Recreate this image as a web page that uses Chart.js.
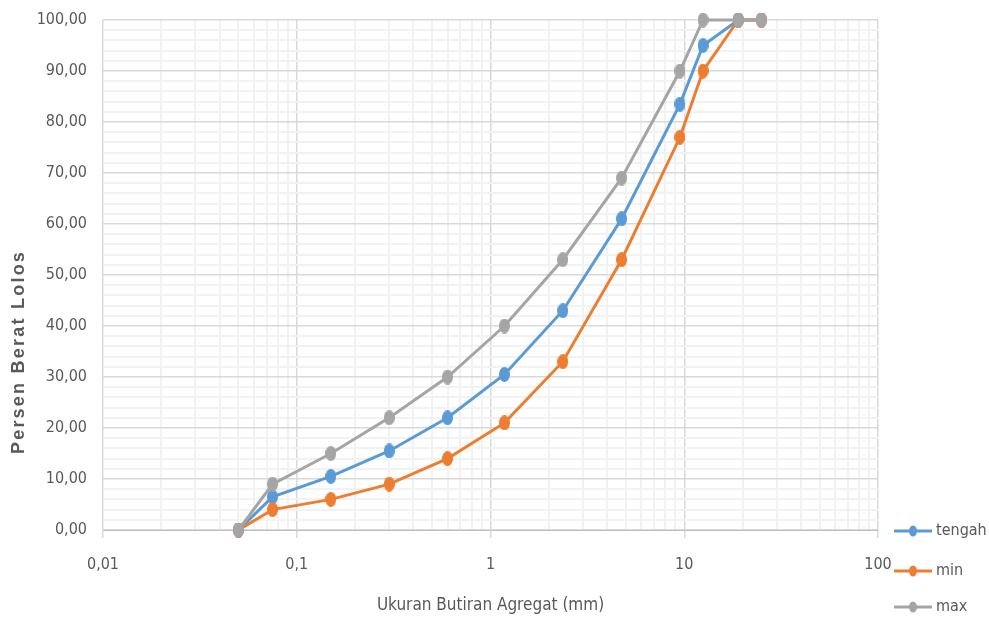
<!DOCTYPE html>
<html>
<head>
<meta charset="utf-8">
<script src="https://cdn.jsdelivr.net/npm/chart.js@4/dist/chart.umd.min.js"></script>
<style>
  html, body { margin: 0; padding: 0; background: #fff; }
  #wrap { width: 989px; height: 619px; position: relative; }
</style>
</head>
<body>
<div id="wrap"><canvas id="gradasiChart"></canvas></div>
<script>
// Data gradasi agregat
const sieveSizes   = [0.05, 0.075, 0.15, 0.3, 0.6, 1.18, 2.36, 4.75, 9.5, 12.5, 19, 25];
const tengahValues = [0, 6.5, 10.5, 15.5, 22, 30.5, 43, 61, 83.5, 95, 100, 100];
const minValues    = [0, 4, 6, 9, 14, 21, 33, 53, 77, 90, 100, 100];
const maxValues    = [0, 9, 15, 22, 30, 40, 53, 69, 90, 100, 100, 100];

const seriesNames  = ['tengah', 'min', 'max'];
const seriesColors = ['#5B9BD5', '#ED7D31', '#A5A5A5'];

const xTickLabels = ['0,01', '0,1', '1', '10', '100'];
const yTitle = 'Persen Berat Lolos';
const xTitle = 'Ukuran Butiran Agregat (mm)';

const textColor = '#595959';
const narrowFont = '"DejaVu Sans Condensed", "Liberation Sans Narrow", "Open Sans", sans-serif';

// Marker elips (gambar asli sedikit tertekan horizontal)
const makeMarker = (color, w, h) => {
    const c = document.createElement('canvas');
    c.width = w;
    c.height = h;
    const g = c.getContext('2d');
    g.fillStyle = color;
    g.beginPath();
    g.ellipse(w / 2, h / 2, w / 2, h / 2, 0, 0, Math.PI * 2);
    g.fill();
    return c;
};

const toPoints = (vals) => sieveSizes.map((s, i) => ({ x: s, y: vals[i] }));

const isDecade = (v) => Math.abs(Math.log10(v) - Math.round(Math.log10(v))) < 1e-6;

// Judul sumbu Y dan legenda digambar manual
const extrasPlugin = {
    id: 'extras',
    afterDraw(chart) {
        const ctx = chart.ctx;
        ctx.save();
        ctx.fillStyle = textColor;
        ctx.font = 'bold 18px "Liberation Sans", Arial, sans-serif';
        const w = ctx.measureText(yTitle).width;
        const spacing = Math.max(0, (202 - w) / (yTitle.length - 1));
        ctx.letterSpacing = spacing.toFixed(2) + 'px';
        ctx.translate(19, 352);
        ctx.rotate(-Math.PI / 2);
        ctx.textAlign = 'center';
        ctx.textBaseline = 'middle';
        ctx.fillText(yTitle, 0, 0);
        ctx.restore();

        // Legenda
        const rows = [531, 571, 607];
        ctx.save();
        seriesNames.forEach((name, i) => {
            const y = rows[i];
            ctx.strokeStyle = seriesColors[i];
            ctx.lineWidth = 3;
            ctx.beginPath();
            ctx.moveTo(894, y);
            ctx.lineTo(932, y);
            ctx.stroke();
            ctx.fillStyle = seriesColors[i];
            ctx.beginPath();
            ctx.ellipse(913, y, 4, 5.5, 0, 0, Math.PI * 2);
            ctx.fill();
            ctx.fillStyle = textColor;
            ctx.font = '16px ' + narrowFont;
            ctx.textAlign = 'left';
            ctx.textBaseline = 'middle';
            ctx.fillText(name, 936, y);
        });
        ctx.restore();
    }
};

const datasets = [tengahValues, minValues, maxValues].map((vals, i) => ({
    label: seriesNames[i],
    data: toPoints(vals),
    borderColor: seriesColors[i],
    backgroundColor: seriesColors[i],
    borderWidth: 3,
    pointStyle: makeMarker(seriesColors[i], 11, 15),
    pointRadius: 6,
    tension: 0,
    clip: false,
    order: 2 - i
}));

new Chart(document.getElementById('gradasiChart'), {
    type: 'line',
    data: { datasets },
    plugins: [extrasPlugin],
    options: {
        responsive: true,
        maintainAspectRatio: false,
        animation: false,
        layout: { padding: { top: 20, right: 111, bottom: 0, left: 0 } },
        plugins: {
            legend: { display: false },
            tooltip: { enabled: false }
        },
        scales: {
            x: {
                type: 'logarithmic',
                min: 0.01,
                max: 100,
                afterBuildTicks: (scale) => {
                    const t = [];
                    for (let e = -2; e < 2; e++) {
                        for (let s = 1; s < 10; s++) {
                            t.push({ value: +(s * Math.pow(10, e)).toPrecision(3) });
                        }
                    }
                    t.push({ value: 100 });
                    scale.ticks = t;
                },
                afterFit: (scale) => {
                    scale.height = 89;
                    scale.paddingLeft = 0;
                    scale.paddingRight = 0;
                },
                border: { display: true, color: '#BFBFBF', width: 1 },
                grid: {
                    color: (c) => isDecade(c.tick.value) ? '#D9D9D9' : '#F2F2F2',
                    lineWidth: (c) => isDecade(c.tick.value) ? 1.5 : 2,
                    drawTicks: true,
                    tickLength: 8,
                    tickColor: (c) => isDecade(c.tick.value) ? '#D9D9D9' : 'rgba(0,0,0,0)'
                },
                ticks: {
                    autoSkip: false,
                    maxRotation: 0,
                    padding: 17,
                    color: textColor,
                    font: { family: narrowFont, size: 16 },
                    callback: (v) => {
                        if (!isDecade(v)) return '';
                        const idx = Math.round(Math.log10(v)) + 2;
                        return xTickLabels[idx];
                    }
                },
                title: {
                    display: true,
                    text: xTitle,
                    color: textColor,
                    font: { family: narrowFont, size: 17 },
                    padding: { top: 0, bottom: 3 }
                }
            },
            y: {
                min: 0,
                max: 100,
                afterFit: (scale) => {
                    scale.width = 103;
                    scale.paddingTop = 0;
                    scale.paddingBottom = 0;
                },
                border: { display: false },
                grid: {
                    color: (c) => c.tick.value % 10 === 0 ? '#D9D9D9' : '#F2F2F2',
                    lineWidth: (c) => c.tick.value % 10 === 0 ? 1.5 : 2,
                    drawTicks: false
                },
                ticks: {
                    stepSize: 2,
                    autoSkip: false,
                    padding: 16,
                    color: textColor,
                    font: { family: narrowFont, size: 16 },
                    callback: (v) => v % 10 === 0 ? v.toFixed(2).replace('.', ',') : ''
                }
            }
        }
    }
});
</script>
</body>
</html>
